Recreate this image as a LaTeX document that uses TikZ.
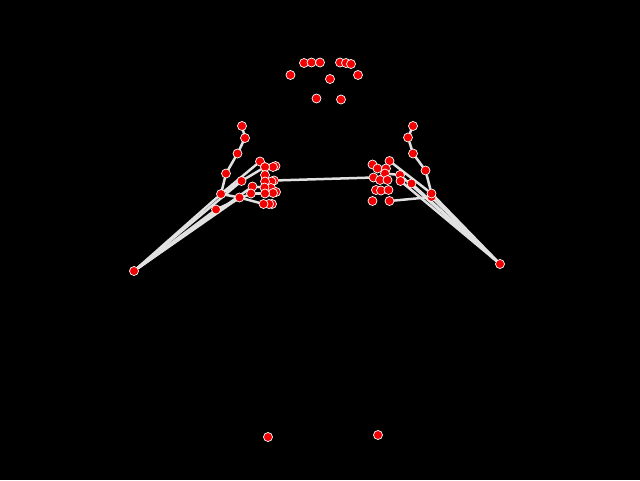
\documentclass[tikz,border=0pt]{standalone}
\usetikzlibrary{backgrounds}
\begin{document}
\begin{tikzpicture}[x=1pt,y=-1pt,
  kp/.style={circle,fill={rgb,255:red,240;green,0;blue,0},draw=white,line width=0.7pt,inner sep=0pt,minimum size=9pt},
  bone/.style={draw={rgb,255:red,225;green,225;blue,225},line width=2.5pt,line cap=round}]
\useasboundingbox (0,0) rectangle (640,480);
% face
\node[kp] (f1) at (304,63) {};
\node[kp] (f2) at (311.5,62.5) {};
\node[kp] (f3) at (320,62.5) {};
\node[kp] (f4) at (340,62.5) {};
\node[kp] (f5) at (346,63) {};
\node[kp] (f6) at (351,64) {};
\node[kp] (f7) at (290.5,75) {};
\node[kp] (f8) at (358,75) {};
\node[kp] (f9) at (330,79) {};
\node[kp] (f10) at (316.5,98.5) {};
\node[kp] (f11) at (341,99.5) {};
% hips
\node[kp] (h1) at (268,437) {};
\node[kp] (h2) at (378,435) {};
% left
\node[kp] (lw) at (134,271) {};
\node[kp] (la1) at (242,126) {};
\node[kp] (la2) at (245,138) {};
\node[kp] (la3) at (237.5,153.5) {};
\node[kp] (la4) at (226,173.5) {};
\node[kp] (la5) at (221,194) {};
\node[kp] (la6) at (216,209.5) {};
\node[kp] (lc4) at (275.5,166) {};
\node[kp] (lc3) at (273,167) {};
\node[kp] (lc1) at (260,161.5) {};
\node[kp] (lc2) at (265,167) {};
\node[kp] (lc5) at (265,175) {};
\node[kp] (lc8) at (274,180.5) {};
\node[kp] (lc7) at (271.5,181.5) {};
\node[kp] (lc6) at (265,181.5) {};
\node[kp] (lc9) at (241.5,181) {};
\node[kp] (lc11) at (271,188) {};
\node[kp] (lc10) at (264.5,187.5) {};
\node[kp] (lc12) at (252.5,186.5) {};
\node[kp] (lc13) at (251,193.5) {};
\node[kp] (lc14) at (239.5,197.5) {};
\node[kp] (lc17) at (276,192) {};
\node[kp] (lc16) at (273,193) {};
\node[kp] (lc15) at (265,193.5) {};
\node[kp] (lc20) at (272,204) {};
\node[kp] (lc19) at (269,204) {};
\node[kp] (lc18) at (263.5,204) {};
% right
\node[kp] (rw) at (500,264) {};
\node[kp] (ra1) at (413,126) {};
\node[kp] (ra2) at (408,137.5) {};
\node[kp] (ra3) at (413,153.5) {};
\node[kp] (ra4) at (425.5,170.5) {};
\node[kp] (ra6) at (431.5,197) {};
\node[kp] (ra5) at (431.5,193.5) {};
\node[kp] (rc1) at (372.5,164.5) {};
\node[kp] (rc2) at (377.5,168.5) {};
\node[kp] (rc3) at (389.5,161) {};
\node[kp] (rc4) at (386,168.5) {};
\node[kp] (rc5) at (385,173.5) {};
\node[kp] (rc6) at (373.5,177.5) {};
\node[kp] (rc7) at (380,180) {};
\node[kp] (rc8) at (387.5,180) {};
\node[kp] (rc9) at (400,175) {};
\node[kp] (rc10) at (400.5,181) {};
\node[kp] (rc11) at (411.5,183.5) {};
\node[kp] (rc12) at (376,190) {};
\node[kp] (rc13) at (381,190.5) {};
\node[kp] (rc14) at (388.5,190) {};
\node[kp] (rc15) at (372.5,201) {};
\node[kp] (rc16) at (389.5,201) {};
\begin{scope}[on background layer]
\fill[black] (0,0) rectangle (640,480);
% left edges
\draw[bone] (la1) -- (la2) -- (la3) -- (la4) -- (la5) -- (lw);
\draw[bone] (la6) -- (lw);
\draw[bone] (lc9) -- (lw);
\draw[bone] (lc12) -- (lw);
\draw[bone] (lc14) -- (lw);
\draw[bone] (la5) -- (lc1);
\draw[bone] (la5) -- (lc9) -- (lc2);
\draw[bone] (la5) -- (lc14) -- (lc18);
\draw[bone] (lc12) -- (lc10);
\draw[bone] (lc13) -- (lc15);
\draw[bone] (la6) -- (lc13);
\draw[bone] (lc8) -- (rc6);
% right edges
\draw[bone] (ra1) -- (ra2) -- (ra3) -- (ra4) -- (ra5) -- (rw);
\draw[bone] (ra6) -- (rw);
\draw[bone] (rc11) -- (rw);
\draw[bone] (rc10) -- (rw);
\draw[bone] (rc9) -- (rw);
\draw[bone] (rc3) -- (ra5);
\draw[bone] (ra6) -- (rc16);
\draw[bone] (rc9) -- (rc5);
\end{scope}
\end{tikzpicture}
\end{document}
